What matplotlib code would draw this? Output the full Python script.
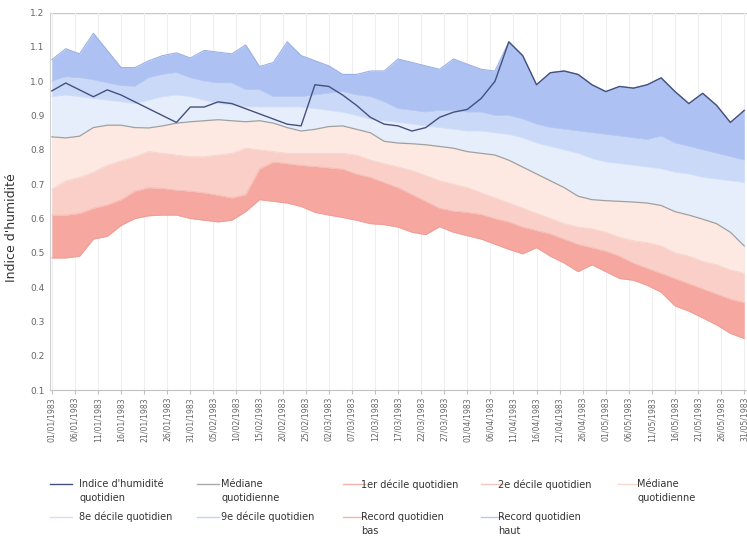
import matplotlib
matplotlib.use("Agg")
import matplotlib.pyplot as plt
import matplotlib.dates as mdates
from matplotlib.lines import Line2D
import pandas as pd

# ---- data (sampled every 3 days from 01/01/1983) ----
dates = pd.date_range("1983-01-01", periods=51, freq="3D")

record_haut = [1.063, 1.095, 1.08, 1.14, 1.09, 1.04, 1.04, 1.06, 1.075, 1.083,
               1.068, 1.09, 1.085, 1.08, 1.106, 1.043, 1.055, 1.115, 1.075, 1.06,
               1.045, 1.02, 1.02, 1.03, 1.03, 1.065, 1.055, 1.045, 1.035, 1.065,
               1.05, 1.035, 1.03, 1.115, 1.075, 0.99, 1.025, 1.03, 1.02, 0.99,
               0.97, 0.985, 0.98, 0.99, 1.01, 0.97, 0.935, 0.965, 0.93, 0.88, 0.915]
decile9 = [1.0, 1.013, 1.01, 1.004, 0.995, 0.987, 0.985, 1.01, 1.02, 1.025,
           1.01, 1.0, 0.995, 0.995, 0.975, 0.975, 0.955, 0.955, 0.955, 0.96,
           0.965, 0.97, 0.96, 0.955, 0.94, 0.92, 0.915, 0.91, 0.915, 0.915,
           0.91, 0.91, 0.9, 0.9, 0.89, 0.875, 0.865, 0.86, 0.855, 0.85,
           0.845, 0.84, 0.835, 0.83, 0.84, 0.82, 0.81, 0.8, 0.79, 0.78, 0.77]
decile8 = [0.955, 0.96, 0.955, 0.95, 0.945, 0.94, 0.935, 0.945, 0.955, 0.96,
           0.955, 0.945, 0.935, 0.93, 0.925, 0.925, 0.925, 0.925, 0.925, 0.92,
           0.915, 0.91, 0.9, 0.89, 0.885, 0.88, 0.875, 0.87, 0.865, 0.86,
           0.855, 0.855, 0.85, 0.845, 0.835, 0.82, 0.81, 0.8, 0.79, 0.775,
           0.765, 0.76, 0.755, 0.75, 0.745, 0.735, 0.73, 0.72, 0.715, 0.71, 0.705]
mediane = [0.838, 0.835, 0.84, 0.865, 0.872, 0.872, 0.865, 0.864, 0.87, 0.878,
           0.882, 0.885, 0.888, 0.885, 0.882, 0.885, 0.878, 0.865, 0.855, 0.86,
           0.868, 0.87, 0.86, 0.85, 0.825, 0.82, 0.818, 0.815, 0.81, 0.805,
           0.795, 0.79, 0.785, 0.77, 0.75, 0.73, 0.71, 0.69, 0.665, 0.655,
           0.652, 0.65, 0.648, 0.645, 0.638, 0.62, 0.61, 0.598, 0.585, 0.56, 0.52]
decile2 = [0.685, 0.71, 0.72, 0.735, 0.755, 0.768, 0.78, 0.795, 0.79, 0.785,
           0.78, 0.78, 0.785, 0.79, 0.805, 0.8, 0.795, 0.79, 0.79, 0.79,
           0.79, 0.79, 0.785, 0.77, 0.76, 0.75, 0.74, 0.725, 0.71, 0.7,
           0.69, 0.675, 0.66, 0.645, 0.63, 0.615, 0.6, 0.585, 0.575, 0.57,
           0.56, 0.545, 0.535, 0.53, 0.52, 0.5, 0.49, 0.475, 0.465, 0.45, 0.44]
decile1 = [0.61, 0.61, 0.615, 0.63, 0.64, 0.655, 0.68, 0.69, 0.688, 0.683,
           0.68, 0.675, 0.668, 0.66, 0.67, 0.745, 0.765, 0.76, 0.755, 0.752,
           0.748, 0.744, 0.73, 0.72, 0.705, 0.69, 0.67, 0.65, 0.63, 0.622,
           0.618, 0.612, 0.6, 0.59, 0.575, 0.565, 0.555, 0.54, 0.525, 0.515,
           0.505, 0.49, 0.47, 0.455, 0.44, 0.425, 0.41, 0.395, 0.38, 0.365, 0.355]
record_bas = [0.485, 0.485, 0.49, 0.54, 0.548, 0.58, 0.6, 0.608, 0.61, 0.61,
              0.6, 0.595, 0.59, 0.595, 0.62, 0.655, 0.65, 0.645, 0.635, 0.618,
              0.61, 0.603, 0.595, 0.585, 0.582, 0.575, 0.56, 0.553, 0.576, 0.56,
              0.55, 0.54, 0.525, 0.51, 0.497, 0.515, 0.49, 0.47, 0.445, 0.465,
              0.445, 0.425, 0.42, 0.405, 0.385, 0.345, 0.33, 0.31, 0.29, 0.265, 0.25]
indice = [0.972, 0.995, 0.975, 0.955, 0.975, 0.96, 0.94, 0.92, 0.9, 0.88,
          0.925, 0.925, 0.94, 0.935, 0.92, 0.905, 0.89, 0.875, 0.87, 0.99,
          0.985, 0.96, 0.93, 0.895, 0.875, 0.87, 0.855, 0.865, 0.895, 0.91,
          0.918, 0.95, 1.0, 1.115, 1.075, 0.99, 1.025, 1.03, 1.02, 0.99,
          0.97, 0.985, 0.98, 0.99, 1.01, 0.97, 0.935, 0.965, 0.93, 0.88, 0.915]

tick_dates = pd.date_range("1983-01-01", "1983-05-31", freq="5D")

legend_labels = ["Indice d'humidité\nquotidien", "Médiane\nquotidienne",
                 "1er décile quotidien", "2e décile quotidien", "Médiane\nquotidienne",
                 "8e décile quotidien", "9e décile quotidien",
                 "Record quotidien\nbas", "Record quotidien\nhaut"]

# ---- colours ----
c_rh = "#adc2f2"
c_d9 = "#cad9f8"
c_d8 = "#e6eefc"
c_d2 = "#fde8e2"
c_d1 = "#f9cfc7"
c_rb = "#f5a7a0"
c_idx = "#44507e"
c_med = "#a0a0a0"

W, H = 747, 537
fig = plt.figure(figsize=(W / 100, H / 100), dpi=100)
ax = fig.add_axes([50 / W, 1 - 390 / H, 1 - 50 / W, (390 - 12.7) / H])

x = mdates.date2num(dates)

ax.fill_between(x, decile9, record_haut, color=c_rh, lw=0, zorder=2)
ax.fill_between(x, decile8, decile9, color=c_d9, lw=0, zorder=2)
ax.fill_between(x, mediane, decile8, color=c_d8, lw=0, zorder=2)
ax.fill_between(x, decile2, mediane, color=c_d2, lw=0, zorder=2)
ax.fill_between(x, decile1, decile2, color=c_d1, lw=0, zorder=2)
ax.fill_between(x, record_bas, decile1, color=c_rb, lw=0, zorder=2)

ax.plot(x, record_haut, color="#9cb0e6", lw=0.8, zorder=3)
ax.plot(x, decile9, color="#bbccf3", lw=0.6, zorder=3)
ax.plot(x, decile8, color="#d5e1f8", lw=0.6, zorder=3)
ax.plot(x, decile2, color="#f6d4cc", lw=0.6, zorder=3)
ax.plot(x, decile1, color="#f3bdb5", lw=0.6, zorder=3)
ax.plot(x, record_bas, color="#ef9e96", lw=0.7, zorder=3)
ax.plot(x, mediane, color=c_med, lw=0.9, zorder=4)
ax.plot(x, indice, color=c_idx, lw=1.0, zorder=5)

x0 = mdates.date2num(pd.Timestamp("1983-01-01"))
ax.set_xlim(x0 - 0.4, x0 + 150.6)
ax.set_ylim(0.1, 1.2)
ax.set_yticks([0.1, 0.2, 0.3, 0.4, 0.5, 0.6, 0.7, 0.8, 0.9, 1.0, 1.1, 1.2])
ax.yaxis.set_major_formatter(plt.FuncFormatter(lambda v, p: f"{v:.1f}"))
ax.set_xticks(mdates.date2num(tick_dates))
ax.set_xticklabels([d.strftime("%d/%m/%Y") for d in tick_dates], rotation=90,
                   fontsize=5.6, color="#666666")
ax.tick_params(axis="y", labelsize=6.5, labelcolor="#666666", length=0, pad=4)
ax.tick_params(axis="x", length=3, color="#c0c0c0", pad=2)
ax.grid(axis="x", color="#efefef", lw=0.8, zorder=0)
ax.axhline(1.2, color="#c8c8c8", lw=1.0, zorder=1)
for s in ["top", "right"]:
    ax.spines[s].set_visible(False)
ax.spines["left"].set_color("#d0d0d0")
ax.spines["bottom"].set_color("#c0c0c0")
ax.set_ylabel("Indice d'humidité", fontsize=9, color="#333333")
ax.yaxis.set_label_coords(-0.046, 0.43)

# ---- legend (manual, row-major like the original) ----
handle_colors = [c_idx, "#aaaaaa", "#f3b3ab", "#f6c9c0", "#f8d7cf",
                 "#d3dff8", "#c3d2f5", "#f1b7af", "#b9c9f0"]
col_line_x = [50, 197, 343, 481, 618]
col_text_x = [79, 221, 361, 498, 637]
row_y = [484, 517]
for i, (lab, col) in enumerate(zip(legend_labels, handle_colors)):
    r, c = divmod(i, 5)
    y = row_y[r]
    fig.add_artist(Line2D([col_line_x[c] / W, (col_line_x[c] + 22) / W],
                          [1 - y / H, 1 - y / H], color=col, lw=1.0))
    fig.text(col_text_x[c] / W, 1 - (y - 5) / H, lab, fontsize=7, color="#333333",
             va="top", ha="left", linespacing=1.55)

fig.savefig("out.png", dpi=100, facecolor="white")
